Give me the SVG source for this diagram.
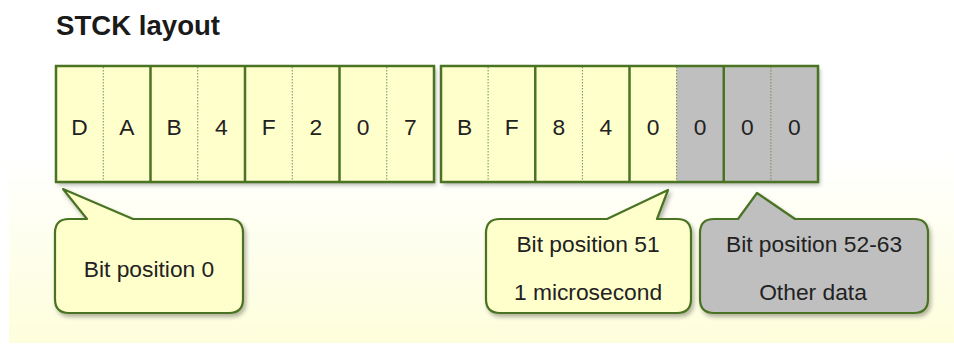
<svg xmlns="http://www.w3.org/2000/svg" width="954" height="347" viewBox="0 0 954 347">
<defs>
<linearGradient id="bg" x1="0" y1="0" x2="0" y2="1">
<stop offset="0" stop-color="#ffffff"/>
<stop offset="0.45" stop-color="#ffffff"/>
<stop offset="1" stop-color="#fefedc"/>
</linearGradient>
<filter id="sh" x="-10%" y="-10%" width="125%" height="130%">
<feDropShadow dx="2" dy="3" stdDeviation="2.2" flood-color="#000" flood-opacity="0.3"/>
</filter>
<style>
.t{font-family:"Liberation Sans",Arial,sans-serif;font-size:22.8px;fill:#222;text-anchor:middle}
.ttl{font-family:"Liberation Sans",Arial,sans-serif;font-size:27.6px;font-weight:bold;fill:#1a1a1a}
.y{fill:#ffffcc}
.g{fill:#bfbfbf}
.box{fill:none;stroke:#4a7323;stroke-width:2.5}
.sd{stroke:#4a7323;stroke-width:2.5}
.dd{stroke:#6f8f5a;stroke-width:1;stroke-dasharray:1.5 1.5}
.co{stroke:#4a7323;stroke-width:2.2;stroke-linejoin:round}
</style>
</defs>
<rect x="9" y="0" width="945" height="343" fill="url(#bg)"/>
<text class="ttl" x="56" y="35">STCK layout</text>

<g id="bar1">
<rect x="56" y="66" width="378" height="116" class="y" filter="url(#sh)"/>
<line class="dd" x1="103.25" y1="67" x2="103.25" y2="181"/>
<line class="sd" x1="150.5" y1="66" x2="150.5" y2="182"/>
<line class="dd" x1="197.75" y1="67" x2="197.75" y2="181"/>
<line class="sd" x1="245" y1="66" x2="245" y2="182"/>
<line class="dd" x1="292.25" y1="67" x2="292.25" y2="181"/>
<line class="sd" x1="339.5" y1="66" x2="339.5" y2="182"/>
<line class="dd" x1="386.75" y1="67" x2="386.75" y2="181"/>
<rect x="56" y="66" width="378" height="116" class="box"/>
<text class="t" x="79.6" y="135">D</text>
<text class="t" x="126.9" y="135">A</text>
<text class="t" x="174.1" y="135">B</text>
<text class="t" x="221.4" y="135">4</text>
<text class="t" x="268.6" y="135">F</text>
<text class="t" x="315.9" y="135">2</text>
<text class="t" x="363.1" y="135">0</text>
<text class="t" x="410.4" y="135">7</text>
</g>

<g id="bar2">
<rect x="441" y="66" width="377" height="116" class="y" filter="url(#sh)"/>
<rect x="676.6" y="66" width="141.4" height="116" class="g"/>
<line class="dd" x1="488.1" y1="67" x2="488.1" y2="181"/>
<line class="sd" x1="535.25" y1="66" x2="535.25" y2="182"/>
<line class="dd" x1="582.4" y1="67" x2="582.4" y2="181"/>
<line class="sd" x1="629.5" y1="66" x2="629.5" y2="182"/>
<line class="dd" x1="676.6" y1="67" x2="676.6" y2="181"/>
<line class="sd" x1="723.75" y1="66" x2="723.75" y2="182"/>
<line class="dd" x1="770.9" y1="67" x2="770.9" y2="181"/>
<rect x="441" y="66" width="377" height="116" class="box"/>
<text class="t" x="464.6" y="135">B</text>
<text class="t" x="511.7" y="135">F</text>
<text class="t" x="558.8" y="135">8</text>
<text class="t" x="605.9" y="135">4</text>
<text class="t" x="653.1" y="135">0</text>
<text class="t" x="700.2" y="135">0</text>
<text class="t" x="747.3" y="135">0</text>
<text class="t" x="794.4" y="135">0</text>
</g>

<g id="callout0">
<path class="co y" filter="url(#sh)" d="M69 219 L87 219 L63 189 L133 219 L229 219 Q243 219 243 233 L243 299 Q243 313 229 313 L69 313 Q55 313 55 299 L55 233 Q55 219 69 219 Z"/>
<text class="t" x="149" y="277">Bit position 0</text>
</g>

<g id="callout51">
<path class="co y" filter="url(#sh)" d="M500 219 L607 219 L668 190 L657 219 L677 219 Q691 219 691 233 L691 299 Q691 313 677 313 L500 313 Q486 313 486 299 L486 233 Q486 219 500 219 Z"/>
<text class="t" x="588" y="252">Bit position 51</text>
<text class="t" x="588" y="300">1 microsecond</text>
</g>

<g id="callout52">
<path class="co g" filter="url(#sh)" d="M714 219 L738 219 L757 193 L795 219 L914 219 Q928 219 928 233 L928 299 Q928 313 914 313 L714 313 Q700 313 700 299 L700 233 Q700 219 714 219 Z"/>
<text class="t" x="814" y="252">Bit position 52-63</text>
<text class="t" x="813" y="300">Other data</text>
</g>
<g id="connectors"/>
</svg>
